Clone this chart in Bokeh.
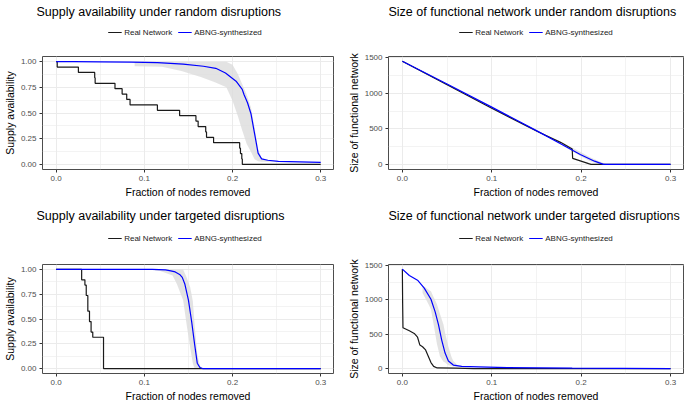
from bokeh.plotting import figure
from bokeh.models import (Range1d, FixedTicker, PrintfTickFormatter, Legend, LegendItem)
from bokeh.embed import file_html
from bokeh.resources import INLINE
from bokeh.core.templates import get_env

# ---------------- data ----------------
x_ticks = [0.0, 0.1, 0.2, 0.3]
x_minor = [0.05, 0.15, 0.25]
supply_ticks = [0.0, 0.25, 0.5, 0.75, 1.0]
supply_minor = [0.125, 0.375, 0.625, 0.875]
size_ticks = [0, 500, 1000, 1500]
size_minor = [250, 750, 1250]

series_names = ["Real Network", "ABNG-synthesized"]

# Supply availability, random disruptions
sar_real_x = [0.0, 0.0012, 0.0252, 0.0437, 0.0442, 0.0667, 0.0748, 0.0800, 0.0838, 0.1148, 0.1400,
              0.1585, 0.1610, 0.1696, 0.1705, 0.1785, 0.2081, 0.2090, 0.2105, 0.2111, 0.3]
sar_real_y = [1.0, 0.947, 0.895, 0.842, 0.789, 0.737, 0.684, 0.632, 0.579, 0.526, 0.474,
              0.421, 0.368, 0.316, 0.263, 0.211, 0.158, 0.105, 0.053, 0.0, 0.0]
sar_abng_x = [0.0, 0.02, 0.05, 0.085, 0.115, 0.144, 0.167, 0.181, 0.192, 0.204, 0.211, 0.213,
              0.217, 0.221, 0.225, 0.229, 0.233, 0.240, 0.252, 0.3]
sar_abng_y = [1.0, 1.0, 0.998, 0.995, 0.99, 0.975, 0.955, 0.935, 0.89, 0.81, 0.73, 0.68,
              0.60, 0.49, 0.30, 0.11, 0.054, 0.04, 0.03, 0.02]
sar_band_x = [0.089, 0.12, 0.142, 0.164, 0.18, 0.193, 0.200, 0.206, 0.211, 0.216, 0.221, 0.225,
              0.229, 0.233, 0.24, 0.25]
sar_band_lo = [0.955, 0.95, 0.91, 0.85, 0.80, 0.75, 0.62, 0.47, 0.33, 0.20, 0.12, 0.05,
               0.03, 0.025, 0.025, 0.025]
sar_band_hi = [1.0, 1.0, 1.0, 1.0, 1.0, 1.0, 0.97, 0.88, 0.78, 0.68, 0.55, 0.36,
               0.15, 0.06, 0.045, 0.035]

# Size of functional network, random disruptions
szr_real_x = [0.0, 0.05, 0.1, 0.15, 0.177, 0.19, 0.1905, 0.2084, 0.211, 0.3]
szr_real_y = [1450, 1120, 790, 470, 310, 215, 85, 10, 0, 0]
szr_abng_x = [0.0, 0.05, 0.1, 0.15, 0.177, 0.199, 0.215, 0.225, 0.3]
szr_abng_y = [1450, 1130, 805, 475, 290, 140, 45, 0, 0]
szr_band_x = [0.18, 0.19, 0.2, 0.21, 0.22, 0.228]
szr_band_lo = [260, 185, 110, 45, 3, 0]
szr_band_hi = [300, 235, 170, 100, 45, 5]

# Supply availability, targeted disruptions
sat_real_x = [0.0, 0.0289, 0.0326, 0.0341, 0.0359, 0.0378, 0.0396, 0.0415, 0.0537, 0.3]
sat_real_y = [1.0, 0.895, 0.842, 0.737, 0.579, 0.474, 0.368, 0.316, 0.0, 0.0]
sat_abng_x = [0.0, 0.05, 0.109, 0.124, 0.13, 0.135, 0.14, 0.143, 0.146, 0.15, 0.1537, 0.157,
              0.16, 0.163, 0.166, 0.3]
sat_abng_y = [1.0, 1.0, 1.0, 0.995, 0.985, 0.975, 0.95, 0.92, 0.85, 0.69, 0.47, 0.245,
              0.054, 0.01, 0.0, 0.0]
sat_band_x = [0.112, 0.118, 0.132, 0.137, 0.144, 0.148, 0.152, 0.155, 0.157, 0.16, 0.163, 0.166]
sat_band_lo = [0.99, 0.985, 0.94, 0.85, 0.69, 0.44, 0.21, 0.05, 0.0, 0.0, 0.0, 0.0]
sat_band_hi = [1.0, 1.0, 1.0, 1.0, 1.0, 0.92, 0.82, 0.68, 0.44, 0.15, 0.03, 0.0]

# Size of functional network, targeted disruptions
szt_real_x = [0.0, 0.0003, 0.0007, 0.0078, 0.0133, 0.017, 0.0196, 0.0226, 0.026, 0.029, 0.032,
              0.035, 0.039, 0.06, 0.08, 0.3]
szt_real_y = [1450, 965, 596, 550, 512, 457, 342, 318, 272, 180, 87, 32, 9, 5, 0, 0]
szt_abng_x = [0.0, 0.0078, 0.017, 0.0245, 0.032, 0.0367, 0.0404, 0.0441, 0.0478, 0.0515, 0.057,
              0.0664, 0.085, 0.1175, 0.19, 0.3]
szt_abng_y = [1450, 1357, 1288, 1173, 1011, 827, 641, 411, 226, 111, 51, 32, 25, 14, 5, 0]
szt_band_x = [0.0226, 0.030, 0.032, 0.035, 0.0386, 0.042, 0.046, 0.0478, 0.0515, 0.055, 0.057,
              0.0627, 0.07]
szt_band_lo = [1103, 918, 860, 641, 364, 180, 100, 87, 50, 37, 30, 25, 25]
szt_band_hi = [1214, 1140, 1126, 1040, 941, 800, 641, 520, 318, 170, 111, 37, 30]

# ---------------- styling ----------------
FONT = "Liberation Sans"
BLACK = "#1a1a1a"
BLUE = "#0000ff"
BAND = "#dcdcdc"
LINE_W = 1.2


def make_header(title, width, height, mb_left, mb_right, real_x, real_y, abng_x, abng_y):
    """Title plus a legend that sits between the title and the panel.
    The series are drawn here only as legend keys: the view lies outside their x span."""
    h = figure(width=width, height=height, x_range=Range1d(1.0, 2.0), y_range=Range1d(0, 1),
               output_backend="svg", toolbar_location=None, title=title,
               x_axis_location=None, y_axis_location=None,
               min_border_left=mb_left, min_border_right=mb_right,
               min_border_top=0, min_border_bottom=0)
    h.outline_line_color = None
    h.background_fill_color = "white"
    h.border_fill_color = "white"
    for g in h.grid:
        g.visible = False
    h.title.text_font = FONT
    h.title.text_font_size = "12.5px"
    h.title.text_font_style = "normal"
    h.title.text_color = "black"
    h.title.align = "left"
    h.title.standoff = 4
    k_real = h.line(real_x, real_y, line_color=BLACK, line_width=LINE_W)
    k_abng = h.line(abng_x, abng_y, line_color=BLUE, line_width=LINE_W)
    legend = Legend(items=[LegendItem(label=series_names[0], renderers=[k_real]),
                           LegendItem(label=series_names[1], renderers=[k_abng])],
                    orientation="horizontal", location="center",
                    label_text_font=FONT, label_text_font_size="8px",
                    label_text_color="#1a1a1a",
                    glyph_width=14, glyph_height=10, label_height=10,
                    label_standoff=3, spacing=5, padding=0, margin=0,
                    border_line_color=None, background_fill_alpha=0)
    h.add_layout(legend)
    return h


def make_panel(ylabel, yticks, yminor, yfmt, yrange, real_x, real_y, real_step,
               abng_x, abng_y, band_x, band_lo, band_hi, width, height,
               mb_left, mb_right, mb_top, mb_bottom):
    p = figure(width=width, height=height, x_range=Range1d(-0.0155, 0.3145),
               y_range=Range1d(*yrange), output_backend="svg", toolbar_location=None,
               title=None, min_border_left=mb_left, min_border_right=mb_right,
               min_border_top=mb_top, min_border_bottom=mb_bottom)
    p.background_fill_color = "white"
    p.border_fill_color = "white"
    p.outline_line_color = "#4d4d4d"
    p.outline_line_width = 1

    p.varea(x=band_x, y1=band_lo, y2=band_hi, fill_color=BAND, fill_alpha=0.8)
    if real_step:
        p.step(real_x, real_y, mode="after", line_color=BLACK, line_width=LINE_W)
    else:
        p.line(real_x, real_y, line_color=BLACK, line_width=LINE_W)
    p.line(abng_x, abng_y, line_color=BLUE, line_width=LINE_W)

    p.xaxis.ticker = FixedTicker(ticks=x_ticks, minor_ticks=x_minor)
    p.xaxis.formatter = PrintfTickFormatter(format="%.1f")
    p.yaxis.ticker = FixedTicker(ticks=yticks, minor_ticks=yminor)
    p.yaxis.formatter = PrintfTickFormatter(format=yfmt)
    p.xaxis.axis_label = "Fraction of nodes removed"
    p.yaxis.axis_label = ylabel
    for ax in (p.xaxis, p.yaxis):
        ax.axis_line_color = None
        ax.major_tick_line_color = "#333333"
        ax.major_tick_out = 3
        ax.major_tick_in = 0
        ax.minor_tick_line_color = None
        ax.major_label_text_color = "#4d4d4d"
        ax.major_label_text_font = FONT
        ax.major_label_text_font_size = "8px"
        ax.major_label_standoff = 2
        ax.axis_label_text_font = FONT
        ax.axis_label_text_font_size = "10.5px"
        ax.axis_label_text_font_style = "normal"
        ax.axis_label_text_color = "black"
        ax.axis_label_standoff = 2
    for g in (p.xgrid, p.ygrid):
        g.grid_line_color = "#ebebeb"
        g.grid_line_width = 1
        g.minor_grid_line_color = "#ebebeb"
        g.minor_grid_line_width = 0.6
    return p


h1 = make_header("Supply availability under random disruptions", 340, 44, 36, 7,
                 sar_real_x, sar_real_y, sar_abng_x, sar_abng_y)
m1 = make_panel("Supply availability", supply_ticks, supply_minor, "%.2f", (-0.05, 1.05),
                sar_real_x, sar_real_y, True, sar_abng_x, sar_abng_y,
                sar_band_x, sar_band_lo, sar_band_hi, 340, 156, 36, 7, 12, 28)
h2 = make_header("Size of functional network under random disruptions", 345, 44, 48, 2,
                 szr_real_x, szr_real_y, szr_abng_x, szr_abng_y)
m2 = make_panel("Size of functional network", size_ticks, size_minor, "%d", (-72, 1517),
                szr_real_x, szr_real_y, False, szr_abng_x, szr_abng_y,
                szr_band_x, szr_band_lo, szr_band_hi, 345, 156, 48, 2, 12, 28)
h3 = make_header("Supply availability under targeted disruptions", 340, 48, 36, 7,
                 sat_real_x, sat_real_y, sat_abng_x, sat_abng_y)
m3 = make_panel("Supply availability", supply_ticks, supply_minor, "%.2f", (-0.05, 1.05),
                sat_real_x, sat_real_y, True, sat_abng_x, sat_abng_y,
                sat_band_x, sat_band_lo, sat_band_hi, 340, 152, 36, 7, 12, 29)
h4 = make_header("Size of functional network under targeted disruptions", 345, 48, 48, 2,
                 szt_real_x, szt_real_y, szt_abng_x, szt_abng_y)
m4 = make_panel("Size of functional network", size_ticks, size_minor, "%d", (-72, 1517),
                szt_real_x, szt_real_y, False, szt_abng_x, szt_abng_y,
                szt_band_x, szt_band_lo, szt_band_hi, 345, 152, 48, 2, 12, 29)

roots = [h1, m1, h2, m2, h3, m3, h4, m4]
slots = [(0, 0), (0, 44), (340, 0), (340, 44), (0, 204), (0, 252), (340, 204), (340, 252)]

SRC = """{% from macros import embed %}
<!DOCTYPE html>
<html lang="en"><head><meta charset="utf-8"><title>Network disruption curves</title>
<style>
html, body { margin: 0; padding: 0; overflow: hidden; background: white; }
.slot { position: absolute; }
</style>
{{ bokeh_css if bokeh_css }}
{{ bokeh_js if bokeh_js }}
</head><body>
{% for pos in slots %}<div class="slot" style="left: {{ pos[0] }}px; top: {{ pos[1] }}px;">{{ embed(roots[loop.index0]) }}</div>
{% endfor %}
{{ plot_script | indent(4) }}
</body></html>
"""

open("out.html", "w").write(file_html(roots, INLINE, template=get_env().from_string(SRC),
                                      template_variables={"slots": slots}))
